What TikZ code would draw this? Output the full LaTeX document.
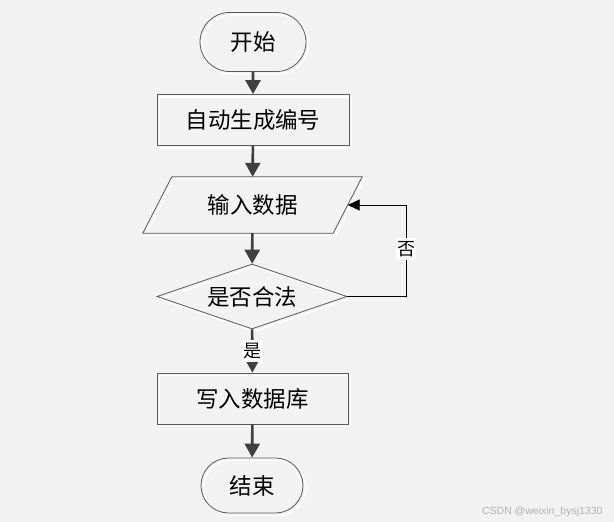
\documentclass[tikz,border=0pt]{standalone}
\usepackage{fontspec}
\setmainfont{Noto Sans CJK SC}
\newfontfamily\wmfont{Liberation Sans}
\usetikzlibrary{shapes.geometric,shapes.misc,arrows.meta}
\begin{document}
\begin{tikzpicture}[x=1pt,y=-1pt,
  shp/.style={draw=black!65, line width=0.8pt, fill=none, inner sep=0pt, font=\fontsize{22.5}{22.5}\selectfont,
     preaction={draw=white, line width=1.2pt, transform canvas={shift={(2.5pt,-2.5pt)}}}},
  term/.style={shp, rounded rectangle},
  procbox/.style={shp, rectangle},
  decide/.style={shp, diamond, aspect=2.9},
  flow/.style={draw=black!75, line width=2.6pt, -{Triangle[width=15pt,length=14pt]}},
  back/.style={draw=black, line width=0.9pt, -{Triangle[width=11pt,length=12pt]}},
  lab/.style={fill=white, inner xsep=1pt, inner ysep=3pt, font=\fontsize{18}{18}\selectfont}]
\useasboundingbox[fill=black!5] (0,0) rectangle (614,522);

\node[term, minimum width=106pt, minimum height=59pt] (start) at (253,42) {开始};
\node[procbox, minimum width=192pt, minimum height=51pt] (gen) at (253,120) {自动生成编号};
\node[inner sep=0pt, minimum width=190pt, minimum height=56pt, font=\fontsize{22.5}{22.5}\selectfont] (in) at (252.5,205) {输入数据};
\draw[draw=white, line width=1.2pt, transform canvas={shift={(2.5pt,-2.5pt)}}]
  ([xshift=14.5pt]in.north west) -- ([xshift=14.5pt]in.north east) -- ([xshift=-14.5pt]in.south east) -- ([xshift=-14.5pt]in.south west) -- cycle;
\draw[draw=black!65, line width=0.8pt]
  ([xshift=14.5pt]in.north west) -- ([xshift=14.5pt]in.north east) -- ([xshift=-14.5pt]in.south east) -- ([xshift=-14.5pt]in.south west) -- cycle;
\node[decide, minimum width=190pt, minimum height=65pt] (chk) at (252,296.5) {是否合法};
\node[procbox, minimum width=191pt, minimum height=51pt] (db) at (252.5,398.5) {写入数据库};
\node[term, minimum width=102pt, minimum height=55pt] (end) at (252,485.5) {结束};

\coordinate (c1) at (406,296.5);
\coordinate (c2) at (406,205);

\draw[flow] (start) -- (gen);
\draw[flow] (gen) -- (in);
\draw[flow] (in) -- (chk);
\draw[flow] (chk) -- (db) node[lab, pos=0.5] (yes) {是};
\draw[flow] (db) -- (end);
\draw[back] (chk.east) -- (c1) -- (c2) -- (in.east);
\node[lab] (no) at (406,249) {否};

\node[text=black!30, font=\wmfont\fontsize{10.5}{10.5}\selectfont, anchor=east] (wm) at (606,512) {CSDN @weixin\_bysj1330};
\end{tikzpicture}
\end{document}
